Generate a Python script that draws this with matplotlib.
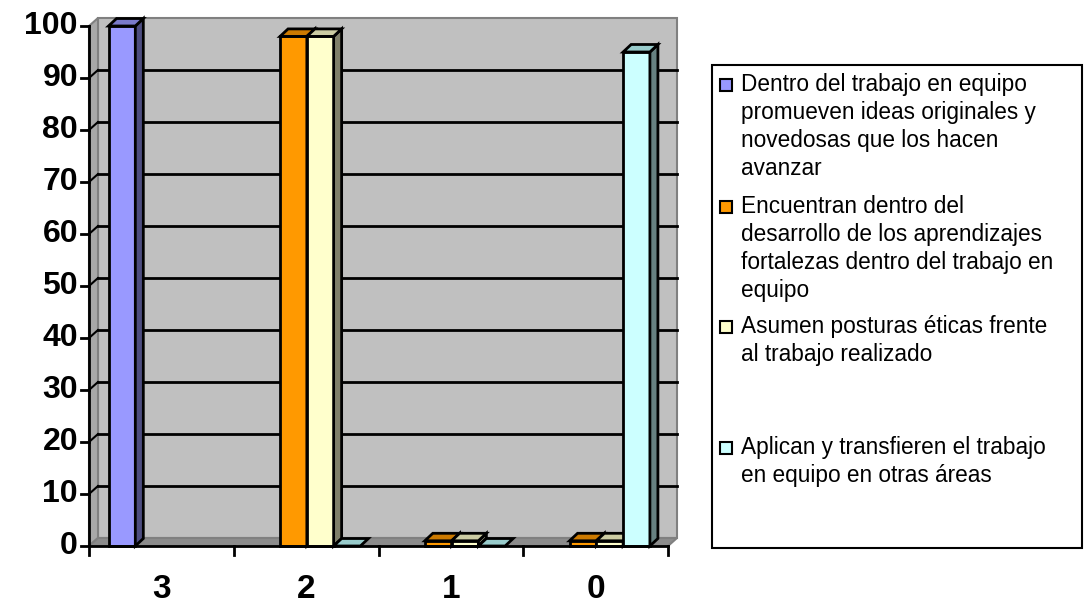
import numpy as np
import matplotlib
matplotlib.use('Agg')
import matplotlib.pyplot as plt
from matplotlib.patches import Polygon, Rectangle

plt.rcParams['font.family'] = ['Liberation Sans', 'DejaVu Sans']

categories = ['3', '2', '1', '0']
series_names = [
    'Dentro del trabajo en equipo\npromueven ideas originales y\nnovedosas que los hacen\navanzar',
    'Encuentran dentro del\ndesarrollo de los aprendizajes\nfortalezas dentro del trabajo en\nequipo',
    'Asumen posturas éticas frente\nal trabajo realizado',
    'Aplican y transfieren el trabajo\nen equipo en otras áreas',
]
# nan = empty cell (no bar drawn), 0 = flat bar
purple_vals = [100, np.nan, np.nan, np.nan]
orange_vals = [np.nan, 98, 1, 1]
yellow_vals = [np.nan, 98, 1, 1]
cyan_vals = [np.nan, 0, 0, 95]
yticks = [0, 10, 20, 30, 40, 50, 60, 70, 80, 90, 100]

all_vals = [purple_vals, orange_vals, yellow_vals, cyan_vals]
front_cols = ['#9999FF', '#FF9900', '#FFFFCC', '#CCFFFF']
top_cols = ['#7A7ACC', '#CC7A00', '#CCCCA3', '#99CCCC']
side_cols = ['#4D4D80', '#804D00', '#80806A', '#668080']

W, H = 1084, 605
fig = plt.figure(figsize=(W / 100, H / 100), dpi=100)

# plot area in pixels
x0, x1 = 89, 668
y0, y1 = 546, 26
ax = fig.add_axes([x0 / W, (H - y0) / H, (x1 - x0) / W, (y0 - y1) / H])
ax.set_xlim(0, 4)
ax.set_ylim(0, 100)
ax.axis('off')

px_x = 4 / (x1 - x0)
px_y = 100 / (y0 - y1)
wdx, wdy = 9 * px_x, 8 * px_y      # wall depth
bdx, bdy = 8 * px_x, 7.5 * px_y    # bar depth

# back wall, side wall, floor
ax.add_patch(Polygon([(wdx, wdy), (4 + wdx, wdy), (4 + wdx, 100 + wdy), (wdx, 100 + wdy)],
                     closed=True, fc='#C0C0C0', ec='#808080', lw=1.5, clip_on=False, zorder=1))
ax.add_patch(Polygon([(0, 0), (wdx, wdy), (wdx, 100 + wdy), (0, 100)],
                     closed=True, fc='#A8A8A8', ec='#808080', lw=1.5, clip_on=False, zorder=1))
ax.add_patch(Polygon([(0, 0), (4, 0), (4 + wdx, wdy), (wdx, wdy)],
                     closed=True, fc='#8C8C8C', ec='#808080', lw=1.5, clip_on=False, zorder=1))

# gridlines on back wall + side wall
for t in yticks[1:-1]:
    ax.plot([wdx, 4 + wdx], [t + wdy, t + wdy], color='black', lw=2, zorder=2, clip_on=False)
    ax.plot([0, wdx], [t, t + wdy], color='black', lw=1.5, zorder=2, clip_on=False)

# axes lines and ticks
ax.plot([0, 0], [0, 100], color='black', lw=2, zorder=6, clip_on=False)
ax.plot([0, 4], [0, 0], color='black', lw=2, zorder=6, clip_on=False)
for t in yticks:
    ax.plot([-8 * px_x, 0], [t, t], color='black', lw=2, zorder=6, clip_on=False)
    ax.text(-11 * px_x, t, str(t), ha='right', va='center', fontsize=23,
            fontweight='bold', zorder=6)
for i in range(5):
    ax.plot([i, i], [0, -9 * px_y], color='black', lw=2, zorder=6, clip_on=False)
for i, c in enumerate(categories):
    ax.text(i + 0.5, -43 * px_y, c, ha='center', va='center', fontsize=24,
            fontweight='bold', zorder=6)

# 3D bars
bw = 0.185
off = 0.135
z = 3
for ci in range(len(categories)):
    for si, vals in enumerate(all_vals):
        v = vals[ci]
        if np.isnan(v):
            continue
        left = ci + off + si * bw
        if v > 0:
            ax.bar(left, v, width=bw, align='edge', color=front_cols[si],
                   edgecolor='black', linewidth=2, zorder=z, clip_on=False)
            ax.add_patch(Polygon([(left + bw, 0), (left + bw + bdx, bdy), (left + bw + bdx, v + bdy), (left + bw, v)],
                                 closed=True, fc=side_cols[si], ec='black', lw=2, zorder=z, clip_on=False))
        ax.add_patch(Polygon([(left, v), (left + bw, v), (left + bw + bdx, v + bdy), (left + bdx, v + bdy)],
                             closed=True, fc=top_cols[si], ec='black', lw=2, zorder=z, clip_on=False))
        z += 0.01

# legend box
lx0, ly0, lx1, ly1 = 712, 65, 1082, 548
fig.patches.append(Rectangle((lx0 / W, (H - ly1) / H), (lx1 - lx0) / W, (ly1 - ly0) / H,
                             transform=fig.transFigure, fc='white', ec='black', lw=1.5))
entry_y = [85, 207, 327, 448]
for si, name in enumerate(series_names):
    yy = entry_y[si]
    fig.patches.append(Rectangle((720 / W, (H - yy - 6) / H), 12 / W, 12 / H,
                                 transform=fig.transFigure, fc=front_cols[si], ec='black', lw=1.5))
    fig.text(741 / W, (H - yy + 12) / H, name, ha='left', va='top', fontsize=16.3,
             linespacing=1.27)

fig.savefig('out.png', dpi=100)
